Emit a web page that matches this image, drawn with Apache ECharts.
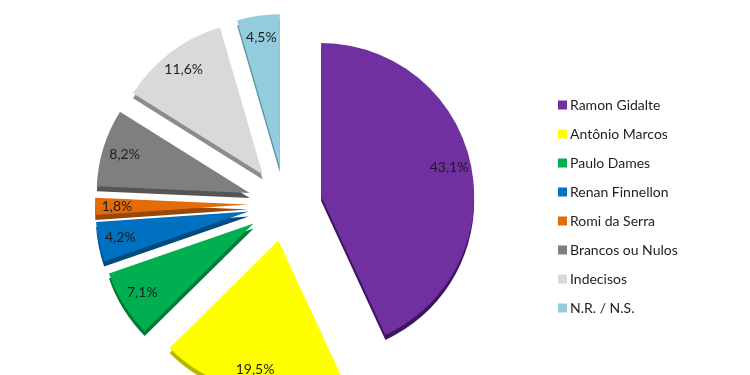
<!DOCTYPE html>
<html><head><meta charset="utf-8">
<script src="https://cdn.jsdelivr.net/npm/echarts@6/dist/echarts.min.js"></script>
<style>html,body{margin:0;padding:0;background:#fff}#c{width:750px;height:375px}</style>
</head><body><div id="c"></div>
<script>
const categories = ['Ramon Gidalte','Antônio Marcos','Paulo Dames','Renan Finnellon','Romi da Serra','Brancos ou Nulos','Indecisos','N.R. / N.S.'];
const values = [43.1, 19.5, 7.1, 4.2, 1.8, 8.2, 11.6, 4.5];
const labels = ['43,1%','19,5%','7,1%','4,2%','1,8%','8,2%','11,6%','4,5%'];
const colors = ['#7030A0','#FFFF00','#00B050','#0070C0','#E36C0A','#7F7F7F','#D9D9D9','#93CDDD'];
const sideColors = ['#3E1560','#B8B800','#007A37','#004A80','#9A4806','#555555','#8C8C8C','#5E97A6'];

const chart = echarts.init(document.getElementById('c'), null, {renderer:'canvas'});
const center = [285, 204];
const font = 'Lato, "Liberation Sans", sans-serif';
chart.setOption({
  animation: false,
  legend: {
    orient: 'vertical', left: 553, top: 93,
    icon: 'rect', itemWidth: 9, itemHeight: 9, itemGap: 15,
    textStyle: {fontFamily: font, fontSize: 14, color: '#1e1e1e', padding: [0, 0, 0, -2]},
    data: categories
  },
  series: [{
    type: 'pie', center: center, radius: [0, 153],
    startAngle: 90, clockwise: true,
    selectedMode: 'multiple', selectedOffset: 37,
    silent: true,
    label: {show: false}, labelLine: {show: false},
    data: categories.map((n, i) => ({
      name: n, value: values[i], selected: true,
      itemStyle: {color: colors[i], shadowColor: sideColors[i], shadowBlur: 0, shadowOffsetX: 0, shadowOffsetY: 5}
    }))
  }, {
    type: 'pie', center: center, radius: [108, 148],
    startAngle: 90, clockwise: true,
    selectedMode: 'multiple', selectedOffset: 37,
    silent: true, legendHoverLink: false,
    itemStyle: {color: 'rgba(0,0,0,0)'},
    label: {show: true, position: 'inside', fontFamily: font, fontSize: 14, color: '#1e1e1e',
      formatter: p => labels[p.dataIndex]},
    labelLine: {show: false},
    data: categories.map((n, i) => ({name: n, value: values[i], selected: true}))
  }]
});
</script></body></html>
